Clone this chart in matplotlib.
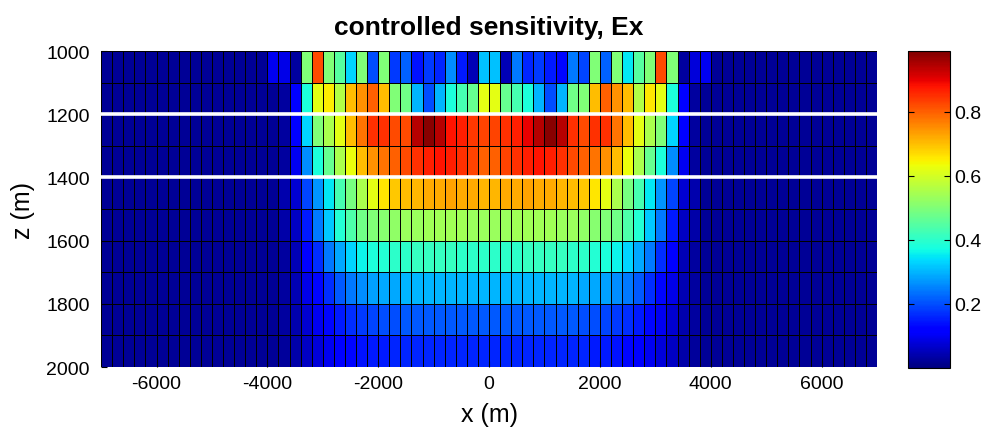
import numpy as np
import matplotlib.pyplot as plt

plt.rcParams['font.family'] = ['Liberation Sans', 'DejaVu Sans']
plt.rcParams['axes.unicode_minus'] = False

# cell edges of the model grid (m)
x_edges = np.arange(-7000, 7001, 200)
z_edges = np.arange(1000, 2001, 100)

# sensitivity per cell, one list per depth row (70 cells, x = -7000 .. 6800)
row_1000 = [
    0.02, 0.02, 0.02, 0.02, 0.02, 0.02, 0.02, 0.02, 0.02, 0.02, 0.02, 0.02, 0.02, 0.02, 0.02, 0.10, 0.09, 0.03,
    0.50, 0.82, 0.50, 0.45, 0.33, 0.50, 0.20, 0.50, 0.18, 0.22, 0.14, 0.18, 0.16, 0.26, 0.15, 0.05, 0.31,
    0.31, 0.05, 0.24, 0.16, 0.18, 0.15, 0.13, 0.24, 0.19, 0.50, 0.22, 0.50, 0.35, 0.45, 0.50, 0.82, 0.50,
    0.03, 0.08, 0.10, 0.02, 0.02, 0.02, 0.02, 0.02, 0.02, 0.02, 0.02, 0.02, 0.02, 0.02, 0.02, 0.02, 0.02, 0.02,
]
row_1100 = [
    0.02, 0.02, 0.02, 0.02, 0.02, 0.02, 0.02, 0.02, 0.02, 0.02, 0.02, 0.02, 0.02, 0.02, 0.02, 0.02, 0.03, 0.11,
    0.38, 0.62, 0.65, 0.56, 0.70, 0.75, 0.80, 0.70, 0.50, 0.48, 0.30, 0.20, 0.30, 0.38, 0.43, 0.47, 0.62,
    0.62, 0.47, 0.43, 0.38, 0.30, 0.20, 0.30, 0.48, 0.50, 0.70, 0.80, 0.75, 0.70, 0.56, 0.66, 0.62, 0.38,
    0.11, 0.03, 0.02, 0.02, 0.02, 0.02, 0.02, 0.02, 0.02, 0.02, 0.02, 0.02, 0.02, 0.02, 0.02, 0.02, 0.02, 0.02,
]
row_1200 = [
    0.02, 0.02, 0.02, 0.02, 0.02, 0.02, 0.02, 0.02, 0.02, 0.02, 0.02, 0.02, 0.02, 0.02, 0.02, 0.02, 0.03, 0.12,
    0.33, 0.50, 0.55, 0.62, 0.70, 0.78, 0.85, 0.85, 0.82, 0.82, 0.94, 0.98, 0.94, 0.88, 0.87, 0.84, 0.83,
    0.83, 0.85, 0.87, 0.90, 0.94, 0.98, 0.94, 0.85, 0.82, 0.85, 0.85, 0.78, 0.70, 0.62, 0.55, 0.50, 0.33,
    0.12, 0.03, 0.02, 0.02, 0.02, 0.02, 0.02, 0.02, 0.02, 0.02, 0.02, 0.02, 0.02, 0.02, 0.02, 0.02, 0.02, 0.02,
]
row_1300 = [
    0.02, 0.02, 0.02, 0.02, 0.02, 0.02, 0.02, 0.02, 0.02, 0.02, 0.02, 0.02, 0.02, 0.02, 0.02, 0.02, 0.03, 0.10,
    0.26, 0.38, 0.47, 0.55, 0.63, 0.70, 0.75, 0.78, 0.80, 0.82, 0.85, 0.87, 0.88, 0.87, 0.85, 0.83, 0.80,
    0.80, 0.83, 0.85, 0.87, 0.88, 0.87, 0.85, 0.82, 0.80, 0.78, 0.75, 0.70, 0.63, 0.55, 0.47, 0.38, 0.26,
    0.10, 0.03, 0.02, 0.02, 0.02, 0.02, 0.02, 0.02, 0.02, 0.02, 0.02, 0.02, 0.02, 0.02, 0.02, 0.02, 0.02, 0.02,
]
row_1400 = [
    0.02, 0.02, 0.02, 0.02, 0.02, 0.02, 0.02, 0.02, 0.02, 0.02, 0.02, 0.02, 0.02, 0.02, 0.02, 0.02, 0.04, 0.07,
    0.19, 0.27, 0.35, 0.43, 0.49, 0.55, 0.62, 0.66, 0.69, 0.70, 0.71, 0.72, 0.72, 0.73, 0.72, 0.72, 0.71,
    0.71, 0.72, 0.72, 0.73, 0.72, 0.72, 0.71, 0.70, 0.69, 0.66, 0.62, 0.55, 0.49, 0.43, 0.35, 0.27, 0.19,
    0.07, 0.04, 0.02, 0.02, 0.02, 0.02, 0.02, 0.02, 0.02, 0.02, 0.02, 0.02, 0.02, 0.02, 0.02, 0.02, 0.02, 0.02,
]
row_1500 = [
    0.02, 0.02, 0.02, 0.02, 0.02, 0.02, 0.02, 0.02, 0.02, 0.02, 0.02, 0.02, 0.02, 0.02, 0.02, 0.02, 0.035, 0.06,
    0.15, 0.24, 0.32, 0.39, 0.44, 0.48, 0.50, 0.51, 0.52, 0.53, 0.53, 0.54, 0.54, 0.54, 0.54, 0.53, 0.53,
    0.53, 0.53, 0.54, 0.54, 0.54, 0.54, 0.53, 0.53, 0.52, 0.51, 0.50, 0.48, 0.44, 0.39, 0.32, 0.24, 0.15,
    0.06, 0.035, 0.02, 0.02, 0.02, 0.02, 0.02, 0.02, 0.02, 0.02, 0.02, 0.02, 0.02, 0.02, 0.02, 0.02, 0.02, 0.02,
]
row_1600 = [
    0.02, 0.02, 0.02, 0.02, 0.02, 0.02, 0.02, 0.02, 0.02, 0.02, 0.02, 0.02, 0.02, 0.02, 0.02, 0.02, 0.03, 0.05,
    0.11, 0.17, 0.24, 0.29, 0.33, 0.36, 0.38, 0.39, 0.40, 0.40, 0.41, 0.41, 0.41, 0.41, 0.40, 0.40, 0.40,
    0.40, 0.40, 0.40, 0.41, 0.41, 0.41, 0.41, 0.40, 0.40, 0.39, 0.38, 0.36, 0.33, 0.29, 0.24, 0.17, 0.11,
    0.05, 0.03, 0.02, 0.02, 0.02, 0.02, 0.02, 0.02, 0.02, 0.02, 0.02, 0.02, 0.02, 0.02, 0.02, 0.02, 0.02, 0.02,
]
row_1700 = [
    0.02, 0.02, 0.02, 0.02, 0.02, 0.02, 0.02, 0.02, 0.02, 0.02, 0.02, 0.02, 0.02, 0.02, 0.02, 0.02, 0.03, 0.045,
    0.09, 0.13, 0.17, 0.21, 0.24, 0.26, 0.28, 0.29, 0.29, 0.30, 0.30, 0.30, 0.30, 0.30, 0.30, 0.30, 0.30,
    0.30, 0.30, 0.30, 0.30, 0.30, 0.30, 0.30, 0.30, 0.29, 0.29, 0.28, 0.26, 0.24, 0.21, 0.17, 0.13, 0.09,
    0.045, 0.03, 0.02, 0.02, 0.02, 0.02, 0.02, 0.02, 0.02, 0.02, 0.02, 0.02, 0.02, 0.02, 0.02, 0.02, 0.02, 0.02,
]
row_1800 = [
    0.02, 0.02, 0.02, 0.02, 0.02, 0.02, 0.02, 0.02, 0.02, 0.02, 0.02, 0.02, 0.02, 0.02, 0.02, 0.02, 0.03, 0.04,
    0.07, 0.10, 0.13, 0.15, 0.17, 0.18, 0.19, 0.20, 0.20, 0.21, 0.21, 0.21, 0.21, 0.21, 0.21, 0.21, 0.21,
    0.21, 0.21, 0.21, 0.21, 0.21, 0.21, 0.21, 0.21, 0.20, 0.20, 0.19, 0.18, 0.17, 0.15, 0.13, 0.10, 0.07,
    0.04, 0.03, 0.02, 0.02, 0.02, 0.02, 0.02, 0.02, 0.02, 0.02, 0.02, 0.02, 0.02, 0.02, 0.02, 0.02, 0.02, 0.02,
]
row_1900 = [
    0.02, 0.02, 0.02, 0.02, 0.02, 0.02, 0.02, 0.02, 0.02, 0.02, 0.02, 0.02, 0.02, 0.02, 0.02, 0.02, 0.025, 0.035,
    0.06, 0.08, 0.10, 0.12, 0.13, 0.14, 0.15, 0.15, 0.16, 0.16, 0.16, 0.16, 0.16, 0.16, 0.16, 0.16, 0.16,
    0.16, 0.16, 0.16, 0.16, 0.16, 0.16, 0.16, 0.16, 0.16, 0.15, 0.15, 0.14, 0.13, 0.12, 0.10, 0.08, 0.06,
    0.035, 0.025, 0.02, 0.02, 0.02, 0.02, 0.02, 0.02, 0.02, 0.02, 0.02, 0.02, 0.02, 0.02, 0.02, 0.02, 0.02, 0.02,
]

sens = np.array([row_1000, row_1100, row_1200, row_1300, row_1400,
                 row_1500, row_1600, row_1700, row_1800, row_1900])

fig = plt.figure(figsize=(9.91, 4.39), dpi=100)
ax = fig.add_axes([0.102, 0.1617, 0.783, 0.7198])
cax = fig.add_axes([0.9163, 0.1595, 0.0424, 0.7221])

mesh = ax.pcolormesh(x_edges, z_edges, sens, cmap='jet', vmin=0, vmax=0.99,
                     edgecolors='black', linewidth=0.6)

# layer boundaries
ax.axhline(1200, color='white', lw=2.6)
ax.axhline(1400, color='white', lw=2.6)

ax.set_xlim(-7000, 7000)
ax.set_ylim(2000, 1000)
ax.set_xticks([-6000, -4000, -2000, 0, 2000, 4000, 6000])
ax.set_yticks([1000, 1200, 1400, 1600, 1800, 2000])
ax.tick_params(axis='x', direction='in', labelsize=14, length=4, pad=6)
ax.tick_params(axis='y', direction='in', labelsize=14, length=4, pad=8)
for s in ax.spines.values():
    s.set_visible(False)

ax.set_title('controlled sensitivity, Ex', fontsize=19, fontweight='bold', pad=12)
ax.set_xlabel('x (m)', fontsize=18, labelpad=7)
ax.set_ylabel('z (m)', fontsize=18, labelpad=8)

cb = fig.colorbar(mesh, cax=cax, ticks=[0.2, 0.4, 0.6, 0.8])
cb.ax.tick_params(direction='in', labelsize=14, length=4, pad=3)
cb.ax.yaxis.set_ticks_position('both')
cb.ax.set_yticklabels(['0.2', '0.4', '0.6', '0.8'])
cb.outline.set_linewidth(0.8)

fig.savefig('out.png', dpi=100)
